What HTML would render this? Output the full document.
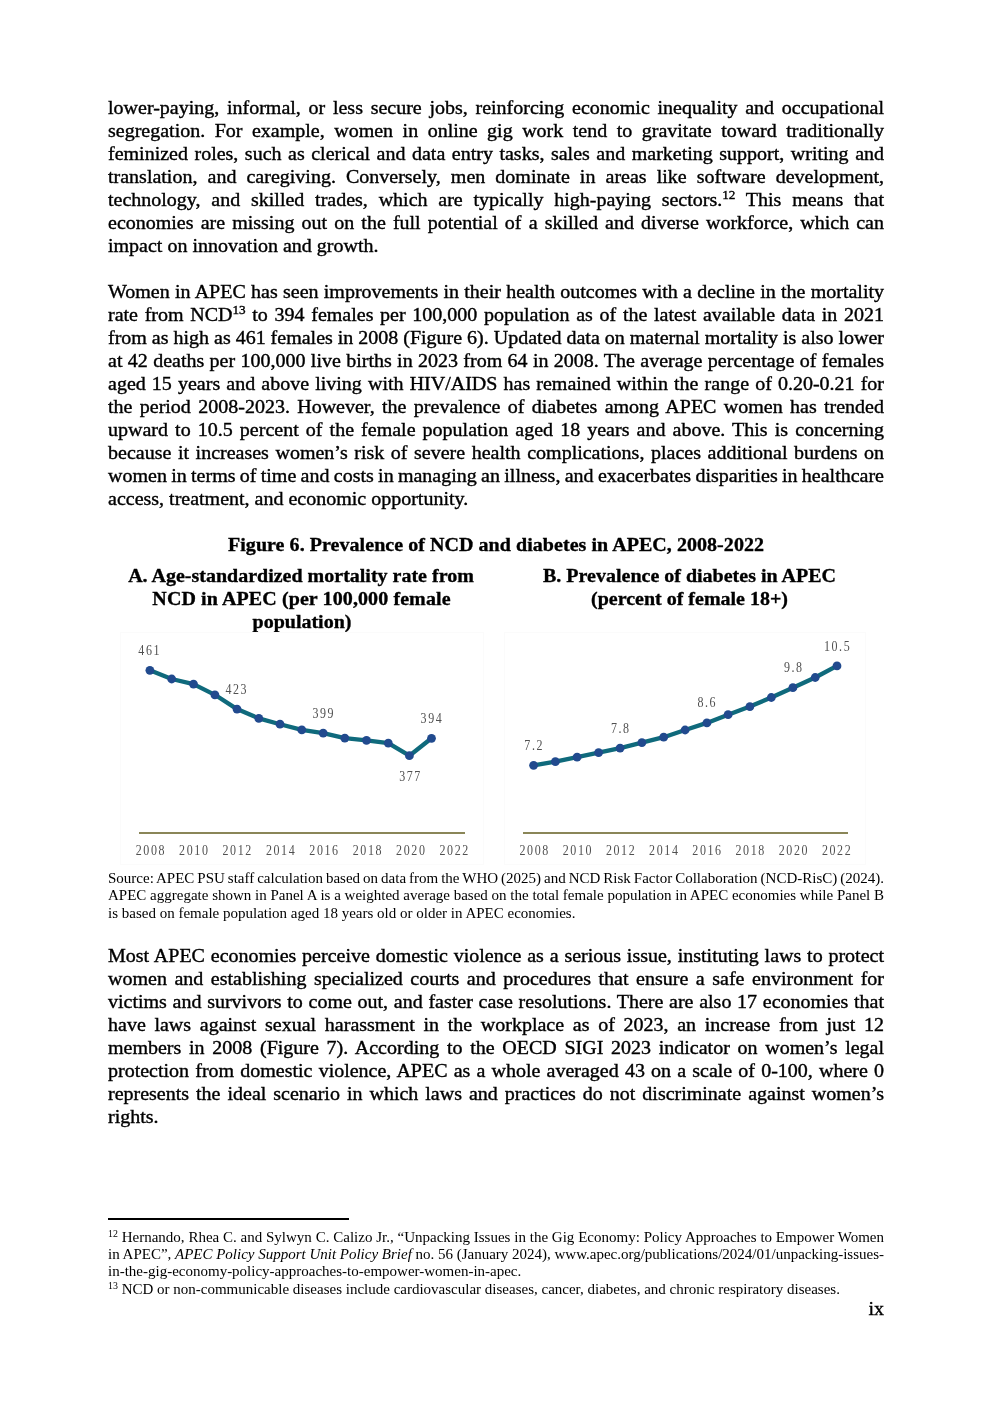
<!DOCTYPE html>
<html><head><meta charset="utf-8"><title>APEC page ix</title>
<style>
html,body{margin:0;padding:0;background:#fff;}
body{will-change:transform;width:992px;height:1403px;position:relative;overflow:hidden;font-family:"Liberation Serif","Times New Roman",serif;color:#000;}
.b,.s{position:absolute;left:108px;width:776px;white-space:nowrap;}
.b{font-size:20px;line-height:23px;transform:scaleY(0.93);transform-origin:0 18px;-webkit-text-stroke:0.4px #000;}
.s{font-size:15px;line-height:17.25px;}
sup{font-size:0.66em;line-height:0;vertical-align:0.55em;}
.ch{position:absolute;left:0;top:0;}
.tk{font-family:"Liberation Serif",serif;font-size:15px;fill:#505050;text-anchor:middle;}
.ft,.pt{position:absolute;text-align:center;font-weight:bold;font-size:20px;line-height:23px;white-space:nowrap;transform:scaleY(0.93);transform-origin:0 18px;-webkit-text-stroke:0.35px #000;}
.sep{position:absolute;left:108px;top:1218px;width:241px;height:2px;background:#000;}
.pn{position:absolute;left:860px;width:24px;text-align:right;font-size:20px;line-height:23px;transform:scaleY(0.93);transform-origin:0 18px;-webkit-text-stroke:0.4px #000;}
</style></head>
<body>
<div class="b" style="top:96px;word-spacing:2.719px">lower-paying, informal, or less secure jobs, reinforcing economic inequality and occupational</div>
<div class="b" style="top:119px;word-spacing:4.496px">segregation. For example, women in online gig work tend to gravitate toward traditionally</div>
<div class="b" style="top:142px;word-spacing:1.517px">feminized roles, such as clerical and data entry tasks, sales and marketing support, writing and</div>
<div class="b" style="top:165px;word-spacing:5.086px">translation, and caregiving. Conversely, men dominate in areas like software development,</div>
<div class="b" style="top:188px;word-spacing:5.776px">technology, and skilled trades, which are typically high-paying sectors.<sup>12</sup> This means that</div>
<div class="b" style="top:211px;word-spacing:2.118px">economies are missing out on the full potential of a skilled and diverse workforce, which can</div>
<div class="b" style="top:234px">impact on innovation and growth.</div>
<div class="b" style="top:280px;word-spacing:0.258px">Women in APEC has seen improvements in their health outcomes with a decline in the mortality</div>
<div class="b" style="top:303px;word-spacing:1.681px">rate from NCD<sup>13</sup> to 394 females per 100,000 population as of the latest available data in 2021</div>
<div class="b" style="top:326px;word-spacing:-0.028px">from as high as 461 females in 2008 (Figure 6). Updated data on maternal mortality is also lower</div>
<div class="b" style="top:349px;word-spacing:0.356px">at 42 deaths per 100,000 live births in 2023 from 64 in 2008. The average percentage of females</div>
<div class="b" style="top:372px;word-spacing:1.117px">aged 15 years and above living with HIV/AIDS has remained within the range of 0.20-0.21 for</div>
<div class="b" style="top:395px;word-spacing:2.344px">the period 2008-2023. However, the prevalence of diabetes among APEC women has trended</div>
<div class="b" style="top:418px;word-spacing:2.106px">upward to 10.5 percent of the female population aged 18 years and above. This is concerning</div>
<div class="b" style="top:441px;word-spacing:1.585px">because it increases women’s risk of severe health complications, places additional burdens on</div>
<div class="b" style="top:464px;word-spacing:-0.696px">women in terms of time and costs in managing an illness, and exacerbates disparities in healthcare</div>
<div class="b" style="top:487px">access, treatment, and economic opportunity.</div>
<div class="b" style="top:944px;word-spacing:0.814px">Most APEC economies perceive domestic violence as a serious issue, instituting laws to protect</div>
<div class="b" style="top:967px;word-spacing:2.559px">women and establishing specialized courts and procedures that ensure a safe environment for</div>
<div class="b" style="top:990px;word-spacing:0.698px">victims and survivors to come out, and faster case resolutions. There are also 17 economies that</div>
<div class="b" style="top:1013px;word-spacing:3.674px">have laws against sexual harassment in the workplace as of 2023, an increase from just 12</div>
<div class="b" style="top:1036px;word-spacing:2.700px">members in 2008 (Figure 7). According to the OECD SIGI 2023 indicator on women’s legal</div>
<div class="b" style="top:1059px;word-spacing:1.153px">protection from domestic violence, APEC as a whole averaged 43 on a scale of 0-100, where 0</div>
<div class="b" style="top:1082px;word-spacing:1.975px">represents the ideal scenario in which laws and practices do not discriminate against women’s</div>
<div class="b" style="top:1105px">rights.</div>
<div class="s" style="top:870px;word-spacing:-0.764px">Source: APEC PSU staff calculation based on data from the WHO (2025) and NCD Risk Factor Collaboration (NCD-RisC) (2024).</div>
<div class="s" style="top:887px;word-spacing:-0.004px">APEC aggregate shown in Panel A is a weighted average based on the total female population in APEC economies while Panel B</div>
<div class="s" style="top:905px">is based on female population aged 18 years old or older in APEC economies.</div>
<div class="s" style="top:1229px;word-spacing:0.056px"><sup>12</sup> Hernando, Rhea C. and Sylwyn C. Calizo Jr., “Unpacking Issues in the Gig Economy: Policy Approaches to Empower Women</div>
<div class="s" style="top:1246px;word-spacing:-0.047px">in APEC”, <i>APEC Policy Support Unit Policy Brief</i> no. 56 (January 2024), www.apec.org/publications/2024/01/unpacking-issues-</div>
<div class="s" style="top:1263px">in-the-gig-economy-policy-approaches-to-empower-women-in-apec.</div>
<div class="s" style="top:1281px"><sup>13</sup> NCD or non-communicable diseases include cardiovascular diseases, cancer, diabetes, and chronic respiratory diseases.</div>
<div class="ft" style="top:533px;left:0;width:992px;letter-spacing:0.05px">Figure 6. Prevalence of NCD and diabetes in APEC, 2008-2022</div>
<div class="pt" style="left:120px;width:362px;top:564px">A. Age-standardized mortality rate from</div>
<div class="pt" style="left:120.5px;width:362px;top:587px;letter-spacing:0.1px">NCD in APEC (per 100,000 female</div>
<div class="pt" style="left:121px;width:362px;top:610px">population)</div>
<div class="pt" style="left:509px;width:361px;top:564px">B. Prevalence of diabetes in APEC</div>
<div class="pt" style="left:509px;width:361px;top:587px">(percent of female 18+)</div>
<svg class="ch" width="992" height="1403" viewBox="0 0 992 1403">
<rect x="120.5" y="632.5" width="363" height="232" fill="none" stroke="#fbfbfb" stroke-width="1"/>
<rect x="504.5" y="632.5" width="361" height="232" fill="none" stroke="#fbfbfb" stroke-width="1"/>
<rect x="139" y="832" width="326" height="2" fill="#8a8658"/>
<rect x="523" y="832" width="325" height="2" fill="#8a8658"/>
<polyline points="149.9,670.3 171.7,679.0 193.5,684.1 214.9,694.8 237.0,709.1 258.8,718.4 280.0,724.2 301.8,729.9 323.2,733.2 344.8,738.1 366.5,740.3 388.3,743.2 409.4,755.7 431.5,738.3" fill="none" stroke="#0f6a7c" stroke-width="4.3" stroke-linejoin="round"/>
<circle cx="149.9" cy="670.3" r="4.4" fill="#214a8e"/>
<circle cx="171.7" cy="679.0" r="4.4" fill="#214a8e"/>
<circle cx="193.5" cy="684.1" r="4.4" fill="#214a8e"/>
<circle cx="214.9" cy="694.8" r="4.4" fill="#214a8e"/>
<circle cx="237.0" cy="709.1" r="4.4" fill="#214a8e"/>
<circle cx="258.8" cy="718.4" r="4.4" fill="#214a8e"/>
<circle cx="280.0" cy="724.2" r="4.4" fill="#214a8e"/>
<circle cx="301.8" cy="729.9" r="4.4" fill="#214a8e"/>
<circle cx="323.2" cy="733.2" r="4.4" fill="#214a8e"/>
<circle cx="344.8" cy="738.1" r="4.4" fill="#214a8e"/>
<circle cx="366.5" cy="740.3" r="4.4" fill="#214a8e"/>
<circle cx="388.3" cy="743.2" r="4.4" fill="#214a8e"/>
<circle cx="409.4" cy="755.7" r="4.4" fill="#214a8e"/>
<circle cx="431.5" cy="738.3" r="4.4" fill="#214a8e"/>
<polyline points="533.6,765.3 555.4,761.7 577.1,757.2 598.6,752.6 620.1,748.1 641.9,742.6 663.7,737.2 685.1,730.0 706.9,722.9 728.1,714.7 749.9,706.6 771.3,697.5 792.9,687.7 815.2,677.5 837.0,665.9" fill="none" stroke="#0f6a7c" stroke-width="4.3" stroke-linejoin="round"/>
<circle cx="533.6" cy="765.3" r="4.4" fill="#214a8e"/>
<circle cx="555.4" cy="761.7" r="4.4" fill="#214a8e"/>
<circle cx="577.1" cy="757.2" r="4.4" fill="#214a8e"/>
<circle cx="598.6" cy="752.6" r="4.4" fill="#214a8e"/>
<circle cx="620.1" cy="748.1" r="4.4" fill="#214a8e"/>
<circle cx="641.9" cy="742.6" r="4.4" fill="#214a8e"/>
<circle cx="663.7" cy="737.2" r="4.4" fill="#214a8e"/>
<circle cx="685.1" cy="730.0" r="4.4" fill="#214a8e"/>
<circle cx="706.9" cy="722.9" r="4.4" fill="#214a8e"/>
<circle cx="728.1" cy="714.7" r="4.4" fill="#214a8e"/>
<circle cx="749.9" cy="706.6" r="4.4" fill="#214a8e"/>
<circle cx="771.3" cy="697.5" r="4.4" fill="#214a8e"/>
<circle cx="792.9" cy="687.7" r="4.4" fill="#214a8e"/>
<circle cx="815.2" cy="677.5" r="4.4" fill="#214a8e"/>
<circle cx="837.0" cy="665.9" r="4.4" fill="#214a8e"/>
<text transform="translate(150.10,855) scale(0.8,1)" x="1.00" y="0" letter-spacing="2.0" class="tk">2008</text>
<text transform="translate(533.90,855) scale(0.8,1)" x="1.00" y="0" letter-spacing="2.0" class="tk">2008</text>
<text transform="translate(193.50,855) scale(0.8,1)" x="1.00" y="0" letter-spacing="2.0" class="tk">2010</text>
<text transform="translate(577.10,855) scale(0.8,1)" x="1.00" y="0" letter-spacing="2.0" class="tk">2010</text>
<text transform="translate(236.90,855) scale(0.8,1)" x="1.00" y="0" letter-spacing="2.0" class="tk">2012</text>
<text transform="translate(620.30,855) scale(0.8,1)" x="1.00" y="0" letter-spacing="2.0" class="tk">2012</text>
<text transform="translate(280.30,855) scale(0.8,1)" x="1.00" y="0" letter-spacing="2.0" class="tk">2014</text>
<text transform="translate(663.50,855) scale(0.8,1)" x="1.00" y="0" letter-spacing="2.0" class="tk">2014</text>
<text transform="translate(323.70,855) scale(0.8,1)" x="1.00" y="0" letter-spacing="2.0" class="tk">2016</text>
<text transform="translate(706.70,855) scale(0.8,1)" x="1.00" y="0" letter-spacing="2.0" class="tk">2016</text>
<text transform="translate(367.10,855) scale(0.8,1)" x="1.00" y="0" letter-spacing="2.0" class="tk">2018</text>
<text transform="translate(749.90,855) scale(0.8,1)" x="1.00" y="0" letter-spacing="2.0" class="tk">2018</text>
<text transform="translate(410.50,855) scale(0.8,1)" x="1.00" y="0" letter-spacing="2.0" class="tk">2020</text>
<text transform="translate(793.10,855) scale(0.8,1)" x="1.00" y="0" letter-spacing="2.0" class="tk">2020</text>
<text transform="translate(453.90,855) scale(0.8,1)" x="1.00" y="0" letter-spacing="2.0" class="tk">2022</text>
<text transform="translate(836.30,855) scale(0.8,1)" x="1.00" y="0" letter-spacing="2.0" class="tk">2022</text>
<text transform="translate(148.90,655) scale(0.8,1)" x="1.00" y="0" letter-spacing="2.0" class="tk">461</text>
<text transform="translate(236.00,694) scale(0.8,1)" x="1.00" y="0" letter-spacing="2.0" class="tk">423</text>
<text transform="translate(323.00,718) scale(0.8,1)" x="1.00" y="0" letter-spacing="2.0" class="tk">399</text>
<text transform="translate(431.20,723) scale(0.8,1)" x="1.00" y="0" letter-spacing="2.0" class="tk">394</text>
<text transform="translate(409.75,781) scale(0.8,1)" x="1.00" y="0" letter-spacing="2.0" class="tk">377</text>
<text transform="translate(533.40,750) scale(0.8,1)" x="1.00" y="0" letter-spacing="2.0" class="tk">7.2</text>
<text transform="translate(620.00,733) scale(0.8,1)" x="1.00" y="0" letter-spacing="2.0" class="tk">7.8</text>
<text transform="translate(706.50,707) scale(0.8,1)" x="1.00" y="0" letter-spacing="2.0" class="tk">8.6</text>
<text transform="translate(793.00,672) scale(0.8,1)" x="1.00" y="0" letter-spacing="2.0" class="tk">9.8</text>
<text transform="translate(836.80,651) scale(0.8,1)" x="1.00" y="0" letter-spacing="2.0" class="tk">10.5</text>
</svg>
<div class="sep"></div>
<div class="pn" style="top:1297px">ix</div>
</body></html>
